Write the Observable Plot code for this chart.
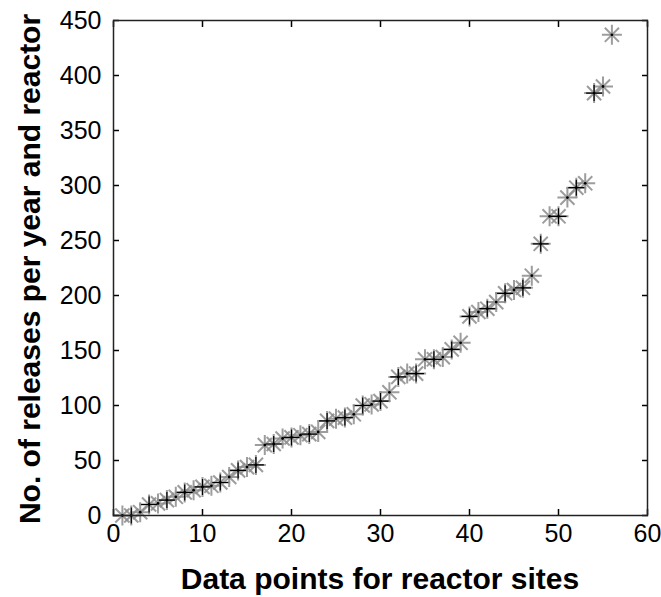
<!DOCTYPE html>
<html>
<head>
<meta charset="utf-8">
<script src="https://cdn.jsdelivr.net/npm/d3@7"></script>
<script src="https://cdn.jsdelivr.net/npm/@observablehq/plot@0.6"></script>
<style>
  html, body { margin: 0; padding: 0; background: #fff; }
  #chart svg { display: block; }
</style>
</head>
<body>
<div id="chart"></div>
<script>
// Data
const sites = d3.range(1, 57);
const releases = [0, 0, 3, 10, 11, 14, 17, 21, 23, 26, 27, 30, 35, 41, 44, 46,
  64, 65, 70, 71, 73, 74, 76, 86, 88, 89, 92, 100, 101, 104, 112, 126, 129, 129,
  142, 142, 144, 151, 157, 181, 185, 188, 194, 202, 205, 207, 218, 247, 272, 272,
  289, 298, 302, 384, 390, 437];
const xTicks = [0, 10, 20, 30, 40, 50, 60];
const yTicks = [0, 50, 100, 150, 200, 250, 300, 350, 400, 450];
const xLabel = "Data points for reactor sites";
const yLabel = "No. of releases per year and reactor";

const data = sites.map((s, i) => ({x: s, y: releases[i]}));

const asterisk8 = {
  draw(ctx, size) {
    const r = Math.sqrt(size / Math.PI);
    for (const a of [0, 45, 90, 135]) {
      const t = a * Math.PI / 180;
      ctx.moveTo(r * Math.cos(t), r * Math.sin(t));
      ctx.lineTo(-r * Math.cos(t), -r * Math.sin(t));
    }
  }
};
const plus = {
  draw(ctx, size) {
    const r = Math.sqrt(size / Math.PI);
    ctx.moveTo(-r, 0); ctx.lineTo(r, 0);
    ctx.moveTo(0, -r); ctx.lineTo(0, r);
  }
};

const font = "'Liberation Sans', Arial, sans-serif";

const chart = Plot.plot({
  width: 661,
  height: 597,
  marginLeft: 113,
  marginRight: 14,
  marginTop: 20,
  marginBottom: 82,
  style: {fontFamily: font, background: "#fff", color: "#000"},
  x: {domain: [0, 60]},
  y: {domain: [0, 450]},
  marks: [
    Plot.dot(data, {x: "x", y: "y", symbol: asterisk8, r: 10, fill: "none", stroke: "#8c8c8c", strokeWidth: 2, strokeOpacity: 0.85}),
    Plot.dot(data.filter((d, i) => i % 2 === 1 && i < 55), {x: "x", y: "y", symbol: plus, r: 8, fill: "none", stroke: "#000", strokeWidth: 1.2}),
    Plot.dot(data, {x: "x", y: "y", r: 1.4, fill: "#000", stroke: "none"}),
    Plot.axisX(xTicks, {anchor: "bottom", tickSize: 0, tickPadding: 9, fontSize: 25, label: null}),
    Plot.axisX(xTicks, {anchor: "bottom", tickSize: -6, text: null, label: null, strokeWidth: 1.5}),
    Plot.axisX(xTicks, {anchor: "top", tickSize: -6, text: null, label: null, strokeWidth: 1.5}),
    Plot.axisY(yTicks, {anchor: "left", tickSize: 0, tickPadding: 12, fontSize: 25, label: null}),
    Plot.axisY(yTicks, {anchor: "left", tickSize: -6, text: null, label: null, strokeWidth: 1.5}),
    Plot.axisY(yTicks, {anchor: "right", tickSize: -6, text: null, label: null, strokeWidth: 1.5}),
    Plot.frame({stroke: "#222", strokeWidth: 1.5})
  ]
});

const svg = d3.select(chart);
svg.append("text")
  .attr("x", 380).attr("y", 589)
  .attr("text-anchor", "middle")
  .attr("font-weight", "bold").attr("font-size", 30)
  .attr("font-family", font)
  .text(xLabel);
svg.append("text")
  .attr("transform", "translate(40,269) rotate(-90)")
  .attr("text-anchor", "middle")
  .attr("font-weight", "bold").attr("font-size", 30)
  .attr("font-family", font)
  .text(yLabel);

document.getElementById("chart").appendChild(chart);
</script>
</body>
</html>
